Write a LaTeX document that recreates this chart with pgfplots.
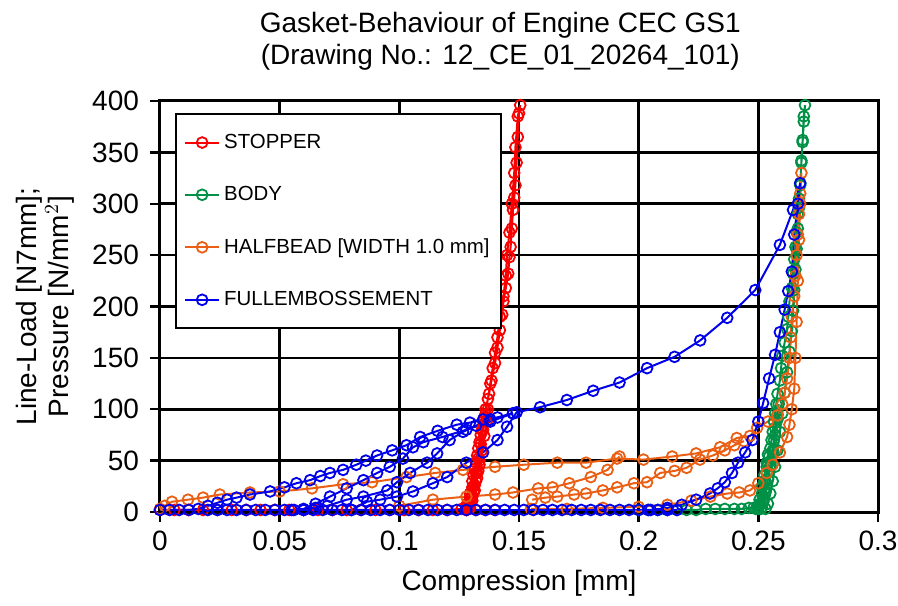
\documentclass[border=0pt]{standalone}
\usepackage{fontspec}
\setmainfont{Liberation Sans}
\usepackage{pgfplots}
\pgfplotsset{compat=1.18}

\definecolor{cRed}{RGB}{250,0,0}
\definecolor{cGreen}{RGB}{0,145,70}
\definecolor{cOrange}{RGB}{235,95,20}
\definecolor{cBlue}{RGB}{0,0,235}

\pgfplotsset{
  gk/.style={line width=1pt, mark=o, mark size=2.7pt, mark options={solid, line width=0.9pt}},
  stop/.style={gk, color=cRed},
  body/.style={gk, color=cGreen},
  half/.style={gk, color=cOrange},
  full/.style={gk, color=cBlue},
}

\begin{document}
\begin{tikzpicture}
\begin{axis}[
  width=359pt, height=205.5pt,
  scale only axis,
  at={(0,0)}, anchor=south west,
  xmin=0, xmax=0.3, ymin=0, ymax=400,
  xtick={0,0.05,0.1,0.15,0.2,0.25,0.3},
  xticklabels={0,0.05,0.1,0.15,0.2,0.25,0.3},
  ytick={0,50,...,400},
  tick align=outside,
  xtick pos=bottom, ytick pos=left,
  major tick length=5pt,
  tick style={black, line width=1.2pt},
  axis line style={line width=1.5pt},
  xmajorgrids, ymajorgrids,
  major grid style={black, line width=1.3pt},
  /pgf/number format/assume math mode=true,
  ticklabel style={font=\fontsize{14}{16}\selectfont},
  yticklabel style={xshift=-2pt},
  xticklabel style={yshift=-1pt},
  title={Gasket-Behaviour of Engine CEC GS1\\(Drawing No.: 12\_CE\_01\_20264\_101)},
  title style={align=center, font=\fontsize{14}{16}\selectfont, at={(0.474,1)}, yshift=6pt},
  xlabel={Compression [mm]},
  ylabel={Line-Load [N7mm];\\Pressure [N/mm$^2$]},
  label style={font=\fontsize{14}{16}\selectfont},
  xlabel style={yshift=-3pt},
  ylabel style={align=center, yshift=2pt},
  legend cell align=left,
  legend style={at={(0.021,0.971)}, anchor=north west, draw=black, line width=1pt,
    font=\fontsize{10.2}{12}\selectfont, row sep=13.5pt, inner xsep=4pt, inner ysep=8pt},
]

% STOPPER
\addplot[stop] coordinates {
 (0.000,2) (0.006,2) (0.012,2) (0.018,2) (0.024,2) (0.030,2) (0.036,2) (0.042,2)
 (0.048,2) (0.054,2) (0.060,2) (0.066,2) (0.072,2) (0.078,2) (0.084,2) (0.090,2)
 (0.096,2) (0.102,2) (0.108,2) (0.114,2) (0.120,2) (0.126,3) (0.128,6) (0.1295,14)
 (0.1305,24) (0.131,36) (0.132,48) (0.133,62) (0.134,75) (0.135,88) (0.136,100)
 (0.1375,115) (0.1385,128) (0.140,145) (0.141,160) (0.142,177) (0.143,192)
 (0.1435,205) (0.1445,218) (0.1455,232) (0.146,248) (0.1465,258) (0.147,276)
 (0.1475,294) (0.148,306) (0.1485,318) (0.149,340) (0.1495,365) (0.150,388) (0.1505,396)
 (0.1495,385) (0.1485,355) (0.148,330) (0.147,300) (0.146,272) (0.145,250)
 (0.1445,230) (0.1435,210) (0.142,190) (0.141,170) (0.140,155) (0.139,140)
 (0.138,125) (0.137,110) (0.136,95) (0.135,80) (0.134,66) (0.133,52) (0.132,38)
 (0.131,25) (0.130,14) (0.129,6) (0.128,2)
};
\addlegendentry{STOPPER}
\addplot[stop, forget plot] coordinates {
 (0.128,2) (0.1285,8) (0.1295,18) (0.1305,30) (0.1315,42) (0.1325,55) (0.1335,68)
 (0.1345,80) (0.1355,92) (0.137,100) (0.1365,88) (0.1355,74) (0.1345,60) (0.1335,46)
 (0.1325,33) (0.1315,21) (0.1305,11) (0.1295,4) (0.132,2) (0.136,2) (0.140,2)
};
\addplot[stop, forget plot] coordinates {
 (0.129,3) (0.130,10) (0.131,20) (0.132,30) (0.133,40) (0.1335,50) (0.1325,38)
 (0.1315,26) (0.1305,15) (0.1295,6)
};

% BODY
\addplot[body] coordinates {
 (0.200,2) (0.204,2) (0.208,2) (0.212,2) (0.216,2) (0.220,2) (0.224,2) (0.228,3)
 (0.232,3) (0.236,3) (0.240,3) (0.243,3) (0.246,4) (0.248,4) (0.250,5) (0.251,8)
 (0.252,14) (0.2525,22) (0.253,30) (0.2535,38) (0.254,46) (0.2545,54) (0.255,62)
 (0.2555,70) (0.256,78) (0.2565,88) (0.257,96) (0.2575,105) (0.258,115) (0.259,128)
 (0.2595,140) (0.260,152) (0.261,165) (0.262,178) (0.2625,190) (0.263,205)
 (0.264,218) (0.2645,232) (0.265,246) (0.2655,258) (0.266,272) (0.2665,290)
 (0.267,305) (0.2675,320) (0.268,340) (0.2685,360) (0.269,380) (0.2695,396)
 (0.269,385) (0.2685,362) (0.268,342) (0.2675,318) (0.267,296) (0.2665,276)
 (0.266,256) (0.2655,236) (0.265,216) (0.2645,196) (0.264,176) (0.263,156)
 (0.262,136) (0.261,116) (0.260,96) (0.259,78) (0.258,60) (0.257,44) (0.256,30)
 (0.255,18) (0.254,8) (0.253,3)
};
\addlegendentry{BODY}
\addplot[body, forget plot] coordinates {
 (0.251,3) (0.252,10) (0.253,20) (0.254,32) (0.255,45) (0.256,58) (0.2565,70)
 (0.257,82) (0.258,95) (0.2585,105) (0.258,90) (0.257,75) (0.256,60) (0.255,45)
 (0.254,32) (0.253,20) (0.252,10) (0.2515,4)
};
\addplot[body, forget plot] coordinates {
 (0.249,3) (0.2505,12) (0.2515,24) (0.2525,36) (0.2535,48) (0.254,56) (0.2535,44)
 (0.2525,30) (0.2515,18) (0.2505,8) (0.250,3)
};

% HALFBEAD
\addplot[half] coordinates {
 (0.000,3) (0.002,6) (0.005,10) (0.0117,12) (0.018,14) (0.025,17) (0.0376,19)
 (0.050,20) (0.0635,23) (0.0765,27) (0.0886,29) (0.103,34) (0.115,38) (0.1266,41)
 (0.140,44) (0.152,46) (0.166,48) (0.178,48) (0.191,52) (0.202,51) (0.214,54)
 (0.224,57) (0.234,63) (0.241,72) (0.2465,74) (0.2495,82) (0.254,88) (0.258,94)
 (0.260,105) (0.261,116) (0.262,130) (0.263,150) (0.2635,170) (0.264,190)
 (0.265,210) (0.2655,230) (0.266,250) (0.2665,270) (0.267,290) (0.2675,310) (0.268,330)
 (0.2675,300) (0.267,265) (0.2665,225) (0.266,185) (0.2655,150) (0.265,120)
 (0.264,100) (0.263,85) (0.262,73) (0.259,58) (0.256,46) (0.2535,38) (0.250,28)
 (0.2465,21) (0.242,19) (0.237,18) (0.230,15) (0.222,11) (0.212,7) (0.200,5)
 (0.185,4) (0.170,3) (0.155,3)
};
\addlegendentry{HALFBEAD [WIDTH 1.0 mm]}
\addplot[half, forget plot] coordinates {
 (0.100,6) (0.114,12) (0.128,15) (0.140,17) (0.1475,19) (0.158,23) (0.164,24)
 (0.171,28) (0.180,34) (0.187,41) (0.192,54)
};
\addplot[half, forget plot] coordinates {
 (0.1555,12) (0.161,14) (0.166,15) (0.173,17) (0.178,18) (0.185,21) (0.191,24)
 (0.198,28) (0.2035,29) (0.209,38) (0.215,40) (0.220,43) (0.2256,51) (0.231,55)
 (0.236,60) (0.240,65) (0.244,69)
};

% FULLEMBOSSEMENT
\addplot[full] coordinates {
 (0.000,2) (0.004,2) (0.008,2) (0.012,2) (0.016,3) (0.020,6) (0.024,9) (0.028,12)
 (0.032,14) (0.0376,17) (0.046,20) (0.052,24) (0.057,28) (0.0627,31) (0.067,35)
 (0.071,38) (0.0765,41) (0.082,46) (0.086,50) (0.0907,55) (0.097,60) (0.103,65)
 (0.1087,73) (0.116,79) (0.124,85) (0.1295,87) (0.135,90) (0.141,92) (0.1475,96)
 (0.138,88) (0.128,80) (0.118,73) (0.110,68) (0.1057,63) (0.1015,52) (0.096,44)
 (0.0907,38) (0.085,31) (0.078,23) (0.071,15) (0.065,8) (0.060,3) (0.055,2)
};
\addlegendentry{FULLEMBOSSEMENT}
\addplot[full, forget plot] coordinates {
 (0.060,2) (0.065,4) (0.070,6) (0.078,12) (0.085,15) (0.095,21) (0.099,29)
 (0.1045,38) (0.1116,48) (0.1158,57) (0.121,70) (0.1266,78) (0.132,84) (0.138,90) (0.1475,96)
};
\addplot[full, forget plot] coordinates {
 (0.080,2) (0.0865,10) (0.092,12) (0.099,15) (0.1057,20) (0.114,28) (0.120,34)
 (0.128,48) (0.135,58) (0.141,70) (0.145,83) (0.149,97) (0.1588,102) (0.170,109)
 (0.181,118) (0.192,126) (0.2035,140) (0.215,151) (0.2257,167) (0.237,189)
 (0.2487,216) (0.259,260) (0.2645,294) (0.2675,320) (0.2665,300) (0.265,270)
 (0.264,234) (0.2625,215) (0.261,197) (0.259,175) (0.257,153) (0.2545,130)
 (0.252,106) (0.250,88) (0.2475,70) (0.2445,58) (0.2415,48) (0.239,38) (0.236,29)
 (0.233,23) (0.2298,18) (0.224,12) (0.218,7) (0.212,4) (0.205,2)
};
\addplot[full, forget plot] coordinates {
 (0.020,2) (0.024,2) (0.028,2) (0.032,2) (0.036,2) (0.040,2) (0.044,2) (0.048,2)
 (0.052,2) (0.056,2) (0.060,2) (0.064,2) (0.068,2) (0.072,2) (0.076,2) (0.080,2)
 (0.084,2) (0.088,2) (0.092,2) (0.096,2) (0.100,2) (0.104,2) (0.108,2) (0.112,2)
 (0.116,2) (0.120,2) (0.124,2) (0.128,2) (0.132,2) (0.136,2) (0.140,2) (0.144,2)
 (0.148,2) (0.152,2) (0.156,2) (0.160,2) (0.164,2) (0.168,2) (0.172,2) (0.176,2)
 (0.180,2) (0.184,2) (0.188,2) (0.192,2) (0.196,2) (0.200,2) (0.204,2) (0.208,2)
 (0.212,2) (0.216,2)
};

\end{axis}
% page frame matching the reference margins (1px = 0.5pt)
\pgfresetboundingbox
\path[use as bounding box] (-80pt,-46.5pt) rectangle (369pt,256pt);
\end{tikzpicture}
\end{document}
